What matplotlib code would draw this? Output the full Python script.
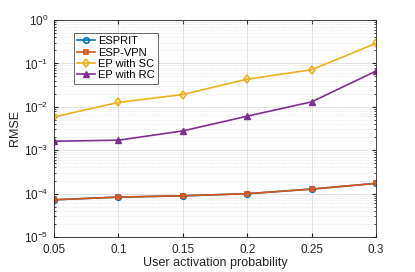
import matplotlib
matplotlib.use('Agg')
import matplotlib.pyplot as plt
from matplotlib.ticker import LogLocator, NullFormatter

plt.rcParams['font.family'] = ['Liberation Sans', 'DejaVu Sans']

# user activation probability
p = [0.05, 0.1, 0.15, 0.2, 0.25, 0.3]

# RMSE values
esprit = [7.2e-5, 8.3e-5, 8.9e-5, 9.95e-5, 1.27e-4, 1.72e-4]
esp_vpn = [7.2e-5, 8.3e-5, 8.9e-5, 9.95e-5, 1.27e-4, 1.72e-4]
ep_sc = [0.00585, 0.0126, 0.0192, 0.0434, 0.0713, 0.29]
ep_rc = [0.00161, 0.0017, 0.00278, 0.00607, 0.013, 0.0664]

fig = plt.figure(figsize=(4.15, 2.72), dpi=100)
ax = fig.add_axes([54/415, 1 - 237/272, (376-54)/415, (237-20)/272])

ax.plot(p, esprit, color='#0072BD', marker='o', ms=4, mfc='none', mew=1.2, lw=1.2, label='ESPRIT')
ax.plot(p, esp_vpn, color='#D95319', marker='s', ms=3.5, mfc='none', mew=1.2, lw=1.2, label='ESP-VPN')
ax.plot(p, ep_sc, color='#EDB120', marker='d', ms=4.5, mfc='none', mew=1.2, lw=1.2, label='EP with SC')
ax.plot(p, ep_rc, color='#7E2F8E', marker='^', ms=4.5, mfc='#7E2F8E', mew=1.0, lw=1.2, label='EP with RC')

ax.set_yscale('log')
ax.set_xlim(0.05, 0.3)
ax.set_ylim(1e-5, 1)
ax.set_xticks(p)
ax.set_xticklabels(['0.05', '0.1', '0.15', '0.2', '0.25', '0.3'])
ax.yaxis.set_major_locator(LogLocator(base=10, numticks=10))
ax.yaxis.set_minor_locator(LogLocator(base=10, subs=range(2, 10), numticks=20))
ax.yaxis.set_minor_formatter(NullFormatter())

ax.grid(True, which='major', color='#dddddd', lw=0.6)
ax.grid(True, which='minor', axis='y', color='#dcdcdc', lw=0.5, ls=':')
ax.set_axisbelow(True)

ax.tick_params(which='both', direction='in', top=True, right=True, labelsize=8.5, colors='#262626')
ax.tick_params(which='major', length=3)
ax.tick_params(which='minor', length=1.5)
ax.tick_params(axis='x', pad=5)
ax.tick_params(axis='y', pad=4)
for s in ax.spines.values():
    s.set_color('#262626')
    s.set_linewidth(0.6)

ax.set_xlabel('User activation probability', fontsize=9, color='#262626', labelpad=1)
ax.set_ylabel('RMSE', fontsize=9, color='#262626', labelpad=2)

leg = ax.legend(loc='upper left', bbox_to_anchor=(0.062, 0.94), borderaxespad=0, fontsize=8,
                frameon=True, fancybox=False, edgecolor='#262626', handlelength=1.6,
                handletextpad=0.3, borderpad=0.3, labelspacing=0.12)
leg.get_frame().set_linewidth(0.6)

fig.savefig('out.png', dpi=100)
